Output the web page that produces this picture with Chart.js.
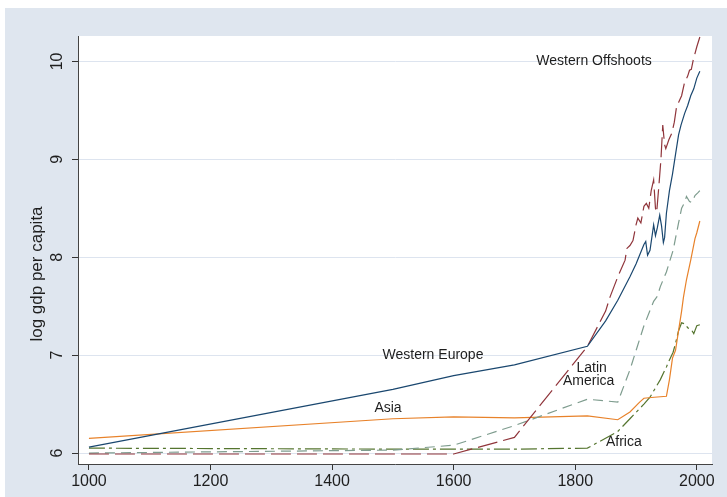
<!DOCTYPE html>
<html>
<head>
<meta charset="utf-8">
<script src="https://cdn.jsdelivr.net/npm/chart.js@4.4.0/dist/chart.umd.min.js"></script>
<style>
  html, body { margin: 0; padding: 0; background: #fff; }
  #wrap { width: 727px; height: 497px; position: relative; }
</style>
</head>
<body>
<div id="wrap"><canvas id="chart" width="727" height="497"></canvas></div>
<script>
// log GDP per capita by region
const weYears = [1000, 1500, 1600, 1700, 1820, 1850, 1870, 1890, 1900, 1913, 1916, 1919, 1923, 1929, 1932, 1935, 1939, 1942, 1945, 1947, 1950, 1955, 1960, 1965, 1970, 1974, 1980, 1985, 1990, 1995, 2000, 2005];
const weVals  = [6.06, 6.65, 6.79, 6.90, 7.09, 7.35, 7.56, 7.80, 7.93, 8.13, 8.16, 8.02, 8.07, 8.33, 8.22, 8.30, 8.43, 8.32, 8.15, 8.20, 8.45, 8.68, 8.85, 9.05, 9.25, 9.35, 9.47, 9.55, 9.65, 9.72, 9.83, 9.90];

const woYears = [1000, 1500, 1600, 1700, 1820, 1850, 1857, 1870, 1882, 1885, 1890, 1895, 1900, 1903, 1908, 1913, 1917, 1921, 1925, 1929, 1932, 1934, 1938, 1941, 1944, 1947, 1949, 1954, 1959, 1963, 1967, 1970, 1975, 1980, 1985, 1988, 1991, 1994, 2000, 2005];
const woVals  = [5.99, 5.99, 5.99, 6.16, 7.09, 7.45, 7.59, 7.80, 7.97, 8.09, 8.12, 8.17, 8.33, 8.40, 8.35, 8.52, 8.55, 8.50, 8.68, 8.79, 8.50, 8.46, 8.76, 9.00, 9.35, 9.15, 9.11, 9.20, 9.27, 9.38, 9.55, 9.58, 9.65, 9.79, 9.85, 9.91, 9.92, 10.01, 10.15, 10.25];

const laYears = [1000, 1500, 1600, 1700, 1820, 1870, 1890, 1913, 1929, 1935, 1940, 1950, 1961, 1970, 1975, 1980, 1983, 1988, 1992, 1997, 2002, 2005];
const laVals  = [6.00, 6.03, 6.08, 6.28, 6.55, 6.52, 6.85, 7.30, 7.55, 7.60, 7.70, 7.85, 8.07, 8.35, 8.50, 8.56, 8.62, 8.57, 8.56, 8.63, 8.66, 8.68];

const asYears = [1000, 1500, 1600, 1700, 1820, 1870, 1890, 1906, 1913, 1930, 1950, 1955, 1960, 1965, 1970, 1975, 1978, 1983, 1990, 1997, 2000, 2005];
const asVals  = [6.15, 6.35, 6.37, 6.36, 6.38, 6.34, 6.42, 6.52, 6.56, 6.57, 6.58, 6.75, 6.97, 7.05, 7.25, 7.45, 7.59, 7.77, 7.97, 8.19, 8.25, 8.37];

const afYears = [1000, 1500, 1600, 1700, 1820, 1870, 1890, 1913, 1923, 1940, 1950, 1955, 1961, 1965, 1970, 1975, 1980, 1985, 1991, 1995, 2000, 2005];
const afVals  = [6.05, 6.04, 6.04, 6.04, 6.05, 6.22, 6.35, 6.50, 6.57, 6.75, 6.88, 6.95, 7.03, 7.12, 7.25, 7.33, 7.32, 7.28, 7.26, 7.22, 7.30, 7.31];

const xTicks = [1000, 1200, 1400, 1600, 1800, 2000];
const yTicks = [6, 7, 8, 9, 10];

const pts = (xs, ys) => xs.map((x, i) => ({ x: x, y: ys[i] }));

// in-plot region labels, anchored in data units
const regionLabels = [
  { text: 'Western Offshoots', x: 1831, y: 10.0 },
  { text: 'Western Europe', x: 1566, y: 7.0 },
  { text: 'Asia', x: 1492, y: 6.46 },
  { text: 'Latin', x: 1827, y: 6.87 },
  { text: 'America', x: 1822, y: 6.73 },
  { text: 'Africa', x: 1880, y: 6.11 }
];

const FONT = '"Liberation Sans", Arial, sans-serif';

const backdrop = {
  id: 'backdrop',
  beforeDraw(chart) {
    const { ctx, chartArea: a } = chart;
    ctx.save();
    ctx.fillStyle = '#ffffff';
    ctx.fillRect(0, 0, chart.width, chart.height);
    ctx.fillStyle = '#dfe6ef';
    ctx.fillRect(5, 8, chart.width - 5, chart.height - 8);
    ctx.fillStyle = '#ffffff';
    ctx.fillRect(a.left, a.top, a.right - a.left, a.bottom - a.top);
    ctx.restore();
  }
};

const texts = {
  id: 'texts',
  afterDraw(chart) {
    const { ctx } = chart;
    const xs = chart.scales.x, ys = chart.scales.y;
    ctx.save();
    ctx.fillStyle = '#1e1e1e';
    ctx.textAlign = 'center';
    ctx.textBaseline = 'middle';
    ctx.font = '14px ' + FONT;
    regionLabels.forEach(l => {
      ctx.fillText(l.text, xs.getPixelForValue(l.x), ys.getPixelForValue(l.y));
    });
    // rotated y tick labels
    ctx.font = '16px ' + FONT;
    yTicks.forEach(v => {
      ctx.save();
      ctx.translate(58, ys.getPixelForValue(v));
      ctx.rotate(-Math.PI / 2);
      ctx.fillText(String(v), 0, 0);
      ctx.restore();
    });
    // y axis title
    ctx.font = '17px ' + FONT;
    ctx.save();
    ctx.translate(37, 274);
    ctx.rotate(-Math.PI / 2);
    ctx.fillText('log gdp per capita', 0, 0);
    ctx.restore();
    ctx.restore();
  }
};

new Chart(document.getElementById('chart'), {
  type: 'line',
  data: {
    datasets: [
      { label: 'Western Europe', data: pts(weYears, weVals), borderColor: '#1a476f', borderWidth: 1.2 },
      { label: 'Western Offshoots', data: pts(woYears, woVals), borderColor: '#90353b', borderWidth: 1.2, borderDash: [20, 6] },
      { label: 'Latin America', data: pts(laYears, laVals), borderColor: '#7e9c8e', borderWidth: 1.2, borderDash: [10, 6] },
      { label: 'Asia', data: pts(asYears, asVals), borderColor: '#e8822a', borderWidth: 1.2 },
      { label: 'Africa', data: pts(afYears, afVals), borderColor: '#55752f', borderWidth: 1.2, borderDash: [16, 4, 3, 4] }
    ]
  },
  options: {
    responsive: false,
    animation: false,
    devicePixelRatio: 1,
    elements: { point: { radius: 0 }, line: { tension: 0, fill: false } },
    layout: { padding: { left: 0, top: 36, right: 15, bottom: 0 } },
    plugins: { legend: { display: false }, tooltip: { enabled: false } },
    scales: {
      x: {
        type: 'linear',
        min: 982,
        max: 2025,
        afterBuildTicks: s => { s.ticks = xTicks.map(v => ({ value: v })); },
        afterFit: s => { s.height = 33; },
        grid: { display: true, drawOnChartArea: false, drawTicks: true, tickLength: 6, tickColor: '#333' },
        border: { display: true, color: '#444', width: 1 },
        ticks: { color: '#1e1e1e', font: { family: FONT, size: 16 }, padding: 2, maxRotation: 0, callback: v => String(v) }
      },
      y: {
        type: 'linear',
        min: 5.888,
        max: 10.26,
        afterBuildTicks: s => { s.ticks = yTicks.map(v => ({ value: v })); },
        afterFit: s => { s.width = 78; },
        grid: { color: '#dde4ef', lineWidth: 1, drawTicks: true, tickLength: 6, tickColor: '#333' },
        border: { display: true, color: '#444', width: 1 },
        ticks: { display: false }
      }
    }
  },
  plugins: [backdrop, texts]
});
</script>
</body>
</html>
